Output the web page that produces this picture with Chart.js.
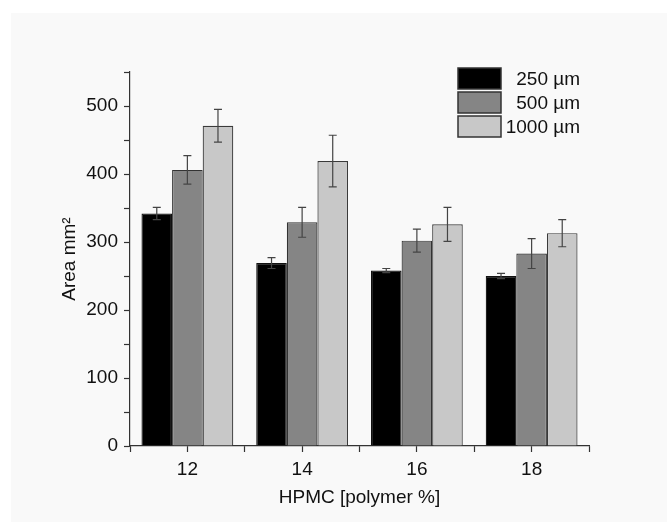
<!DOCTYPE html>
<html>
<head>
<meta charset="utf-8">
<script src="https://cdn.jsdelivr.net/npm/chart.js@4/dist/chart.umd.min.js"></script>
<style>
  html, body { margin: 0; padding: 0; background: #ffffff; }
  #wrap { position: relative; width: 667px; height: 522px; }
  canvas { display: block; }
</style>
</head>
<body>
<div id="wrap"><canvas id="c" width="667" height="522"></canvas></div>
<script>
// ---- data ----
const categories = ['12', '14', '16', '18'];
const seriesLabels = ['250 µm', '500 µm', '1000 µm'];
const values250 = [342, 269, 258, 250];
const values500 = [406, 329, 302, 283];
const values1000 = [471, 419, 326, 313];
const errors250 = [9, 8, 3, 4];
const errors500 = [21, 22, 17, 22];
const errors1000 = [24, 38, 25, 20];
const xTickValues = [12, 14, 16, 18];
const yTickLabels = [0, 100, 200, 300, 400, 500];

const FONT = "'Liberation Sans', Arial, sans-serif";
const fillColors = ['#000000', '#858585', '#c8c8c8'];
const edgeColors = ['#111111', '#333333', '#3a3a3a'];

const seriesValues = [values250, values500, values1000];
const seriesErrors = [errors250, errors500, errors1000];

const datasets = seriesLabels.map((lab, i) => ({
  label: lab,
  data: seriesValues[i],
  errors: seriesErrors[i],
  backgroundColor: fillColors[i],
  borderColor: edgeColors[i],
  borderWidth: 1.2,
  barPercentage: 1.0,
  categoryPercentage: 0.8,
  xAxisID: 'x',
  yAxisID: 'y'
}));

// background panel
const panelPlugin = {
  id: 'panel',
  beforeDraw(chart) {
    const ctx = chart.ctx;
    ctx.save();
    ctx.fillStyle = '#ffffff';
    ctx.fillRect(0, 0, chart.width, chart.height);
    ctx.fillStyle = '#f9f9f9';
    ctx.fillRect(11, 13, chart.width - 11, chart.height - 13);
    ctx.restore();
  }
};

// error bars drawn from each bar element and the y scale
const errorBarPlugin = {
  id: 'errorBars',
  afterDatasetsDraw(chart) {
    const ctx = chart.ctx;
    const yScale = chart.scales.y;
    ctx.save();
    ctx.strokeStyle = '#444444';
    ctx.lineWidth = 1.2;
    chart.data.datasets.forEach((ds, di) => {
      const meta = chart.getDatasetMeta(di);
      meta.data.forEach((bar, i) => {
        const v = ds.data[i], e = ds.errors[i];
        const x = bar.x;
        const yTop = yScale.getPixelForValue(v + e);
        const yBot = yScale.getPixelForValue(v - e);
        const cap = 4;
        ctx.beginPath();
        ctx.moveTo(x, yTop); ctx.lineTo(x, yBot);
        ctx.moveTo(x - cap, yTop); ctx.lineTo(x + cap, yTop);
        ctx.moveTo(x - cap, yBot); ctx.lineTo(x + cap, yBot);
        ctx.stroke();
      });
    });
    ctx.restore();
  }
};

// legend inside the plot, text right-aligned
const legendPlugin = {
  id: 'insideLegend',
  afterDraw(chart) {
    const ctx = chart.ctx;
    const area = chart.chartArea;
    const boxW = 43, boxH = 21, pitch = 24;
    const boxX = area.right - 131;
    const textRight = area.right - 9;
    const top0 = area.top - 4;
    ctx.save();
    ctx.font = '19px ' + FONT;
    ctx.textAlign = 'right';
    ctx.textBaseline = 'middle';
    chart.data.datasets.forEach((ds, i) => {
      const y = top0 + i * pitch;
      ctx.fillStyle = ds.backgroundColor;
      ctx.fillRect(boxX, y, boxW, boxH);
      ctx.strokeStyle = '#333333';
      ctx.lineWidth = 1.5;
      ctx.strokeRect(boxX, y, boxW, boxH);
      ctx.fillStyle = '#111111';
      ctx.fillText(ds.label, textRight, y + boxH / 2 + 1);
    });
    ctx.restore();
  }
};

new Chart(document.getElementById('c'), {
  type: 'bar',
  data: { labels: categories, datasets: datasets },
  options: {
    responsive: false,
    animation: false,
    devicePixelRatio: 1,
    layout: { padding: { left: 50, right: 78, top: 72, bottom: 6 } },
    plugins: {
      legend: { display: false },
      tooltip: { enabled: false }
    },
    scales: {
      x: {
        type: 'category',
        display: false,
        offset: true
      },
      x2: {
        type: 'linear',
        position: 'bottom',
        min: 11,
        max: 19,
        offset: false,
        afterFit(s) { s.height = 70; },
        border: { display: true, color: '#333333', width: 1.2 },
        grid: { offset: false, drawOnChartArea: false, drawTicks: true, tickLength: 6, tickColor: '#333333', tickWidth: 1.2 },
        ticks: {
          stepSize: 1,
          padding: 6,
          color: '#111111',
          font: { family: FONT, size: 19 },
          maxRotation: 0,
          autoSkip: false,
          callback: (v) => xTickValues.includes(v) ? String(v) : ''
        },
        title: {
          display: true,
          text: 'HPMC [polymer %]',
          color: '#111111',
          font: { family: FONT, size: 19 },
          padding: { top: 0, bottom: 7 }
        }
      },
      y: {
        type: 'linear',
        position: 'left',
        min: 0,
        max: 550,
        afterFit(s) { s.width = 80; },
        border: { display: true, color: '#333333', width: 1.2 },
        grid: { drawOnChartArea: false, drawTicks: true, tickLength: 6, tickColor: '#333333', tickWidth: 1.2 },
        ticks: {
          stepSize: 50,
          padding: 6,
          color: '#111111',
          font: { family: FONT, size: 19 },
          autoSkip: false,
          callback: (v) => yTickLabels.includes(v) ? String(v) : ''
        },
        title: {
          display: true,
          text: 'Area mm²',
          color: '#111111',
          font: { family: FONT, size: 19 },
          padding: { top: 8, bottom: 0 }
        }
      }
    }
  },
  plugins: [panelPlugin, errorBarPlugin, legendPlugin]
});
</script>
</body>
</html>
